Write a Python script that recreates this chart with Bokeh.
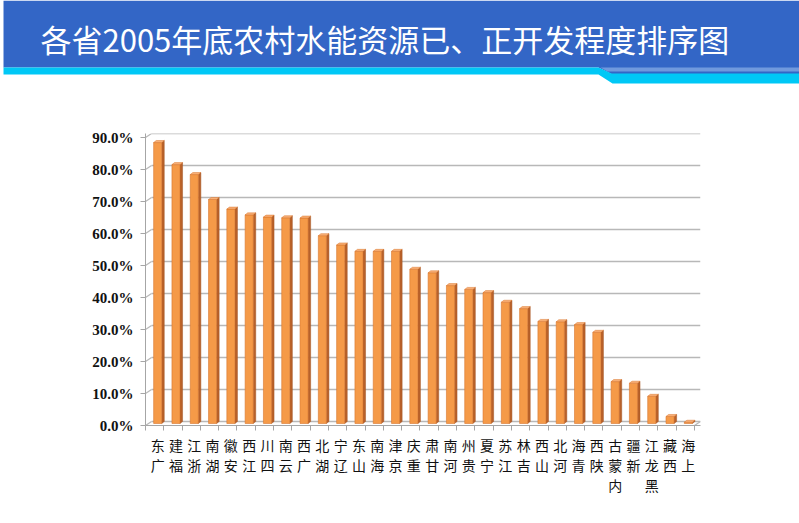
import math
from bokeh.plotting import figure
from bokeh.layouts import column
from bokeh.models import Range1d, FixedTicker, CustomJSTickFormatter
from bokeh.core.properties import value
from bokeh.embed import file_html
from bokeh.resources import INLINE

# ---------------- data ----------------
title_text = "各省2005年底农村水能资源已、正开发程度排序图"
provinces = ["广东", "福建", "浙江", "湖南", "安徽", "江西", "四川", "云南", "广西", "湖北",
             "辽宁", "山东", "海南", "京津", "重庆", "甘肃", "河南", "贵州", "宁夏", "江苏",
             "吉林", "山西", "河北", "青海", "陕西", "内蒙古", "新疆", "黑龙江", "西藏", "上海"]
percent = [87.8, 80.9, 77.8, 70.0, 67.0, 65.2, 64.5, 64.3, 64.2, 58.7,
           55.8, 53.8, 53.8, 53.8, 48.2, 47.1, 43.1, 41.9, 40.9, 37.9,
           35.9, 31.9, 31.8, 30.9, 28.5, 13.1, 12.6, 8.5, 2.2, 0.4]
y_ticks = [0.0, 0.1, 0.2, 0.3, 0.4, 0.5, 0.6, 0.7, 0.8, 0.9]

# ---------------- style constants ----------------
W, H = 799, 523
BANNER_H = 85
DX = 0.33        # 3D depth offset in x (data units)
DY = 0.0125      # 3D depth offset in y (data units)
BAR_W = 0.44
SIDE = 0.14
GRID_COLOR = "#B8B8B8"

# ---------------- banner ----------------
b = figure(width=W, height=BANNER_H, x_range=Range1d(0, W), y_range=Range1d(BANNER_H, 0),
           output_backend="svg", toolbar_location=None, min_border=0)
b.frame_align = False
b.axis.visible = False
b.grid.visible = False
b.outline_line_color = None
b.background_fill_color = "white"
b.border_fill_color = "white"
b.patch([3, 799, 799, 612, 598, 3], [0, 0, 74, 74, 67, 67], fill_color="#3366C6", line_color=None)
b.patch([600, 799, 799, 607], [67, 67, 71, 71], fill_color="#7099DD", line_color=None)
b.patch([3, 598, 611, 799, 799, 612, 598, 3], [67, 67, 73, 73, 83, 83, 74, 74],
        fill_color="#00C8F6", line_color=None)
b.text(x=[40], y=[38], text=[title_text], text_font=value("Noto Sans CJK SC"),
       text_font_size="31px", text_color="white", text_baseline="middle", text_align="left")

# ---------------- chart ----------------
n = len(provinces)
p = figure(width=W, height=H - BANNER_H, x_range=Range1d(0, n + DX), y_range=Range1d(-DY, 0.9),
           output_backend="svg", toolbar_location=None,
           min_border_left=145, min_border_right=99, min_border_top=48, min_border_bottom=98)
p.frame_align = False
p.grid.visible = False
p.outline_line_color = None
p.background_fill_color = "white"
p.border_fill_color = "white"

# back-wall gridlines and left-wall diagonals
p.segment(x0=[DX] * len(y_ticks), y0=y_ticks, x1=[n + DX] * len(y_ticks), y1=y_ticks,
          line_color=GRID_COLOR, line_width=1.6)
p.segment(x0=[0] * len(y_ticks), y0=[v - DY for v in y_ticks], x1=[DX] * len(y_ticks), y1=y_ticks,
          line_color=GRID_COLOR, line_width=1.2)
# floor right edge
p.segment(x0=[n], y0=[-DY], x1=[n + DX], y1=[0], line_color=GRID_COLOR, line_width=1.2)

# bars
vals = [v / 100.0 for v in percent]
xc = [i + 0.5 + DX / 2 for i in range(n)]
bottom = -DY / 2
tops = [v - DY / 2 for v in vals]
xl = [x - BAR_W / 2 for x in xc]
xr = [x + BAR_W / 2 for x in xc]
side_xs = [[r, r, r + SIDE, r + SIDE] for r in xr]
side_ys = [[bottom, t, t + DY / 2, bottom + DY / 2] for t in tops]
top_xs = [[l, r, r + SIDE, l + SIDE] for l, r in zip(xl, xr)]
top_ys = [[t, t, t + DY / 2, t + DY / 2] for t in tops]
p.patches(xs=side_xs, ys=side_ys, fill_color="#B8612A", line_color="#A55523", line_width=0.5)
p.vbar(x=xc, width=BAR_W, bottom=bottom, top=tops, fill_color="#F59A48",
       line_color="#D9772F", line_width=0.6)
p.patches(xs=top_xs, ys=top_ys, fill_color="#F9B077", line_color="#D9772F", line_width=0.5)

# y axis
yax = p.yaxis[0]
yax.ticker = FixedTicker(ticks=[v - DY for v in y_ticks], minor_ticks=[])
yax.formatter = CustomJSTickFormatter(args=dict(dy=DY),
                                      code="return ((tick + dy) * 100).toFixed(1) + '%';")
yax.major_tick_out = 5
yax.major_tick_in = 0
yax.minor_tick_out = 0
yax.major_label_standoff = 7
yax.axis_line_color = "#A6A6A6"
yax.major_tick_line_color = "#A6A6A6"
yax.major_label_text_font = "Liberation Serif"
yax.major_label_text_font_style = "bold"
yax.major_label_text_font_size = "15px"
yax.major_label_text_color = "#111111"

# x axis
xax = p.xaxis[0]
xax.ticker = FixedTicker(ticks=xc, minor_ticks=list(range(n + 1)))
labels_stacked = ["\n".join(reversed(list(s))) for s in provinces]
xax.formatter = CustomJSTickFormatter(args=dict(labels=labels_stacked),
                                      code="return labels[Math.floor(tick)];")
xax.major_tick_out = 0
xax.major_tick_in = 0
xax.minor_tick_out = 5
xax.minor_tick_in = 0
xax.minor_tick_line_color = "#A6A6A6"
xax.axis_line_color = "#A6A6A6"
xax.major_label_standoff = 4
xax.major_label_text_font = "Noto Sans CJK SC"
xax.major_label_text_font_size = "14px"
xax.major_label_text_line_height = 1.0
xax.major_label_text_color = "#111111"

layout = column(b, p, spacing=0)
open("out.html", "w").write(file_html(layout, INLINE))
